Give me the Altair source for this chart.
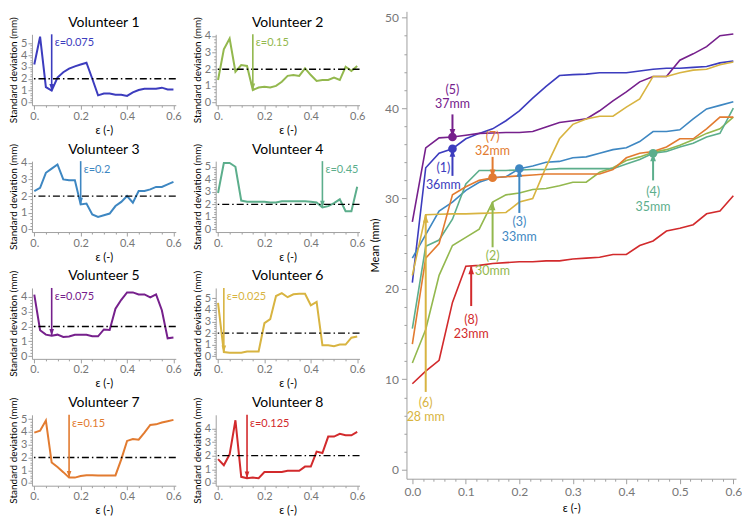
import altair as alt
import pandas as pd

FONT = "Lato"

# ---------------- data ----------------
EPS = [round(0.025 * i, 3) for i in range(25)]

SD1 = [3.2, 5.55, 1.3, 1.0, 2.1, 2.55, 2.85, 3.05, 3.2, 3.35, 2.0, 0.6, 0.75,
       0.75, 0.65, 0.65, 0.55, 0.85, 1.05, 1.15, 1.15, 1.15, 1.25, 1.1, 1.1]
SD2 = [1.35, 3.2, 3.85, 1.85, 2.25, 2.2, 0.75, 0.9, 0.95, 0.9, 1.0, 1.25, 1.6,
       1.65, 1.6, 2.05, 1.65, 1.3, 1.35, 1.35, 1.5, 1.35, 2.15, 1.9, 2.2]
SD3 = [2.3, 2.5, 3.4, 3.65, 3.9, 3.0, 2.95, 2.95, 1.5, 1.55, 0.9, 0.75, 0.85,
       0.95, 1.4, 1.65, 2.0, 1.6, 2.3, 2.3, 2.4, 2.55, 2.55, 2.7, 2.85]
SD4 = [2.9, 5.3, 5.3, 5.0, 2.3, 2.2, 2.2, 2.2, 2.2, 2.15, 2.15, 2.25, 2.25,
       2.25, 2.25, 2.25, 2.2, 2.15, 1.75, 1.85, 2.1, 2.4, 1.45, 1.45, 3.4]
SD5 = [4.15, 1.75, 1.45, 1.38, 1.45, 1.3, 1.32, 1.44, 1.44, 1.44, 1.34, 1.34, 1.8,
       1.77, 3.2, 3.8, 4.3, 4.3, 4.16, 4.16, 3.96, 4.16, 3.1, 1.2, 1.26]
SD6 = [4.6, 0.35, 0.3, 0.3, 0.3, 0.4, 0.4, 0.4, 2.85, 3.2, 5.2, 5.45, 5.1,
       5.35, 5.4, 5.4, 4.4, 4.7, 0.95, 0.95, 0.85, 1.0, 1.0, 1.6, 1.7]
SD7 = [3.95, 4.1, 4.9, 1.6, 1.25, 0.85, 0.42, 0.42, 0.54, 0.6, 0.6, 0.59, 0.59,
       0.59, 0.59, 1.85, 3.3, 3.45, 3.4, 3.95, 4.55, 4.6, 4.75, 4.85, 4.95]
SD8 = [1.75, 1.3, 2.1, 4.6, 0.45, 0.35, 0.4, 0.35, 0.8, 0.8, 0.8, 0.8, 0.9,
       0.9, 0.9, 1.2, 1.2, 2.3, 2.2, 3.4, 3.4, 3.6, 3.5, 3.5, 3.75]
SDS = [SD1, SD2, SD3, SD4, SD5, SD6, SD7, SD8]

M1 = [20.7, 33.4, 35.0, 35.5, 36.6, 37.2, 37.7, 38.6, 39.7, 41.1, 42.4, 43.6, 43.7,
      43.75, 43.9, 43.9, 43.9, 44.1, 44.3, 44.4, 44.4, 44.5, 44.6, 45.0, 45.2]
M2 = [11.8, 15.5, 21.5, 24.8, 25.7, 26.6, 29.6, 30.4, 30.6, 31.0, 31.1, 31.4, 31.8,
      31.8, 32.9, 33.4, 34.2, 34.6, 35.1, 35.4, 35.9, 36.5, 37.2, 37.7, 39.0]
M3 = [23.4, 26.0, 28.6, 29.6, 30.9, 31.8, 32.3, 32.4, 33.3, 33.6, 34.0, 34.1, 34.5,
      34.6, 35.0, 35.4, 35.6, 36.3, 37.4, 37.4, 37.6, 38.8, 39.9, 40.3, 40.7]
M4 = [15.6, 24.7, 25.4, 27.7, 31.6, 33.1, 33.1, 33.1, 33.15, 33.2, 33.2, 33.3, 33.3,
      33.3, 33.3, 33.3, 33.8, 34.3, 35.0, 35.2, 35.7, 36.1, 36.8, 37.2, 40.0]
M5 = [27.4, 35.6, 36.7, 36.8, 37.0, 37.2, 37.25, 37.3, 37.3, 37.4, 37.9, 38.4, 38.6,
      38.8, 39.7, 40.8, 41.8, 42.9, 43.5, 43.5, 45.3, 46.0, 46.8, 48.0, 48.2]
M6 = [21.5, 28.2, 28.25, 28.3, 28.3, 28.35, 28.4, 28.45, 29.6, 30.0, 33.5, 36.6, 38.2,
      38.8, 39.1, 39.1, 40.1, 41.0, 43.5, 43.5, 43.9, 44.2, 44.3, 44.8, 45.1]
M7 = [13.9, 23.4, 25.0, 30.4, 31.3, 32.0, 32.3, 32.4, 32.5, 32.6, 32.7, 32.7, 32.7,
      32.7, 32.7, 33.2, 34.5, 35.0, 35.2, 35.7, 36.6, 36.6, 37.7, 39.0, 39.0]
M8 = [9.5, 10.9, 12.1, 18.5, 22.5, 22.6, 22.8, 22.9, 23.0, 23.0, 23.1, 23.1, 23.3,
      23.4, 23.5, 23.8, 23.8, 24.8, 25.3, 26.4, 26.7, 27.1, 28.3, 28.6, 30.3]
MEANS = [M1, M2, M3, M4, M5, M6, M7, M8]

VOLS = ["1", "2", "3", "4", "5", "6", "7", "8"]
COLORS = ["#3c3cbe", "#93b84e", "#3e87c2", "#5cae8c",
          "#76208c", "#d8b441", "#e27b30", "#d22a2c"]

SEL_EPS = [0.075, 0.15, 0.2, 0.45, 0.075, 0.025, 0.15, 0.125]
SEL_LABELS = ["ε=0.075", "ε=0.15", "ε=0.2", "ε=0.45",
              "ε=0.075", "ε=0.025", "ε=0.15", "ε=0.125"]
Y_TOP = [5.75, 4.1, 4.1, 5.45, 4.6, 5.9, 5.35, 5.0]
Y_MAJOR_MAX = [5, 4, 4, 5, 4, 5, 5, 4]
THRESHOLD = 2.0

# right panel annotations
ANN_VOL = ["5", "1", "7", "3", "2", "4", "8", "6"]
ANN_EPS = [0.075, 0.075, 0.15, 0.2, 0.15, 0.45, 0.11, 0.025]
ANN_TIP = [M5[3], M1[3], M7[6], M3[8], M2[6], M4[18], 22.5, M6[1]]
ANN_TAIL = [39.3, 32.5, 34.6, 28.4, 24.6, 32.0, 18.1, 8.6]
ANN_DIR = ["down", "up", "down", "up", "up", "up", "up", "up"]
ANN_MARK = [True, True, True, True, False, True, False, False]
ANN_L1 = ["(5)", "(1)", "(7)", "(3)", "(2)", "(4)", "(8)", "(6)"]
ANN_L2 = ["37mm", "36mm", "32mm", "33mm", "30mm", "35mm", "23mm", "28 mm"]
ANN_TX = [0.075, 0.058, 0.15, 0.2, 0.15, 0.45, 0.11, 0.025]
ANN_Y1 = [42.0, 33.4, 36.75, 27.35, 23.65, 30.7, 16.6, 7.35]
ANN_Y2 = [40.45, 31.5, 35.2, 25.75, 22.0, 29.1, 15.0, 5.8]

DOWN = "M0,0L-0.6,-1.7L0.6,-1.7Z"
UP = "M0,0L-0.6,1.7L0.6,1.7Z"

W_L, H_L = 144, 71
ROW_GAP, COL_GAP = 56, 40
W_R, H_R = 330, 468
TOP_GAP = 0


def is_major(step):
    return f"abs(datum.value/{step} - round(datum.value/{step})) < 0.001"


def minor_axis(step_minor, top, major, fmt, title_size, label_size, tick_major,
               tick_minor, lab_pad, title_pad, zero_label=None):
    n = int(round(top / step_minor))
    vals = [round(step_minor * i, 4) for i in range(n + 1)]
    lab = f"format(datum.value, '{fmt}')"
    if zero_label is not None:
        lab = f"(datum.value == 0 ? '{zero_label}' : {lab})"
    return alt.Axis(values=vals, tickCount=500, labelOverlap=False,
                    labelExpr=f"{is_major(major)} ? {lab} : ''",
                    tickSize={"condition": {"test": is_major(major), "value": tick_major},
                              "value": tick_minor},
                    labelFontSize=label_size, titleFontSize=title_size,
                    labelPadding=lab_pad, titlePadding=title_pad)


# ---------------- left panels ----------------
def sd_panel(k):
    c = COLORS[k]
    ytop = Y_TOP[k]
    ybot = -0.04 * ytop
    xs = alt.Scale(domain=[-0.01, 0.61], nice=False, zero=False)
    ys = alt.Scale(domain=[ybot, ytop], nice=False, zero=False)
    xt, yt = "ε (-)", "Standard deviation (mm)"
    xax = minor_axis(0.05, 0.6, 0.2, ".1f", 11, 11, 4, 2, 1, 3, zero_label="0.")
    yax = minor_axis(0.2, Y_MAJOR_MAX[k], 1, "d", 10, 11, 4, 2, 1, 2)
    df = pd.DataFrame({"eps": EPS, "sd": SDS[k]})
    line = alt.Chart(df).mark_line(color=c, strokeWidth=2).encode(
        x=alt.X("eps:Q", scale=xs, axis=xax, title=xt),
        y=alt.Y("sd:Q", scale=ys, axis=yax, title=yt))
    thr = alt.Chart(pd.DataFrame({"sd": [THRESHOLD]})).mark_rule(
        color="black", strokeWidth=1.3, strokeDash=[7, 3, 1.5, 3]).encode(
        y=alt.Y("sd:Q", scale=ys, title=yt))
    tip = SDS[k][EPS.index(SEL_EPS[k])]
    adf = pd.DataFrame({"eps": [SEL_EPS[k]], "sd": [ytop], "tip": [tip],
                        "lab": [SEL_LABELS[k]]})
    shaft = alt.Chart(adf).mark_rule(color=c, strokeWidth=1.6).encode(
        x=alt.X("eps:Q", scale=xs, title=xt),
        y=alt.Y("sd:Q", scale=ys, title=yt), y2="tip:Q")
    head = alt.Chart(adf).mark_point(shape=DOWN, filled=True, size=60,
                                     color=c, opacity=1).encode(
        x=alt.X("eps:Q", scale=xs, title=xt),
        y=alt.Y("tip:Q", scale=ys, title=yt))
    txt = alt.Chart(adf).mark_text(align="left", baseline="middle", dx=3, dy=9,
                                   fontSize=11, color=c, font=FONT).encode(
        x=alt.X("eps:Q", scale=xs, title=xt),
        y=alt.Y("sd:Q", scale=ys, title=yt), text="lab:N")
    return alt.layer(line, thr, shaft, head, txt).properties(
        width=W_L, height=H_L,
        title=alt.TitleParams(f"Volunteer {k + 1}", fontSize=14, font=FONT,
                              fontWeight="normal", color="black", offset=-13,
                              frame="group"))


grid = alt.concat(*[sd_panel(k) for k in range(8)], columns=2,
                  spacing={"row": ROW_GAP, "column": COL_GAP}, bounds="flush")

spacer = alt.Chart(pd.DataFrame({"v": [0]})).mark_point(opacity=0).encode(
    x=alt.X("v:Q", axis=None), y=alt.Y("v:Q", axis=None)).properties(width=1, height=1)

left = alt.vconcat(spacer, grid, spacing=TOP_GAP, bounds="full")

# ---------------- right panel ----------------
xs_r = alt.Scale(domain=[-0.011, 0.605], nice=False, zero=False)
ys_r = alt.Scale(domain=[-1.0, 50.7], nice=False, zero=False)
cs = alt.Scale(domain=VOLS, range=COLORS)
XT, YT = "ε (-)", "Mean (mm)"

xax_r = minor_axis(0.02, 0.6, 0.1, ".1f", 11, 12, 5, 2.5, 3, 5)
yax_r = minor_axis(2, 50, 10, "d", 11, 12, 5, 2.5, 3, 4)

mean_rows = []
for v, m in zip(VOLS, MEANS):
    for e, val in zip(EPS, m):
        mean_rows.append({"eps": e, "mean": val, "vol": v})
mdf = pd.DataFrame(mean_rows)

lines_r = alt.Chart(mdf).mark_line(strokeWidth=1.6).encode(
    x=alt.X("eps:Q", scale=xs_r, axis=xax_r, title=XT),
    y=alt.Y("mean:Q", scale=ys_r, axis=yax_r, title=YT),
    color=alt.Color("vol:N", scale=cs, legend=None),
    detail="vol:N")

adf_r = pd.DataFrame({"vol": ANN_VOL, "eps": ANN_EPS, "mean": ANN_TIP, "tail": ANN_TAIL,
                      "dir": ANN_DIR, "mark": ANN_MARK, "l1": ANN_L1, "l2": ANN_L2,
                      "tx": ANN_TX, "y1": ANN_Y1, "y2": ANN_Y2})

enc_xy = dict(x=alt.X("eps:Q", scale=xs_r, title=XT),
              y=alt.Y("mean:Q", scale=ys_r, title=YT),
              color=alt.Color("vol:N", scale=cs, legend=None))

shafts_r = alt.Chart(adf_r).mark_rule(strokeWidth=2).encode(y2="tail:Q", **enc_xy)
heads_up = alt.Chart(adf_r).transform_filter("datum.dir == 'up'").mark_point(
    shape=UP, filled=True, size=90, opacity=1).encode(**enc_xy)
heads_dn = alt.Chart(adf_r).transform_filter("datum.dir == 'down'").mark_point(
    shape=DOWN, filled=True, size=90, opacity=1).encode(**enc_xy)
dots = alt.Chart(adf_r).transform_filter("datum.mark").mark_circle(
    size=75, opacity=1).encode(**enc_xy)
t1 = alt.Chart(adf_r).mark_text(fontSize=12.5, font=FONT, baseline="middle").encode(
    x=alt.X("tx:Q", scale=xs_r, title=XT),
    y=alt.Y("y1:Q", scale=ys_r, title=YT),
    text="l1:N", color=alt.Color("vol:N", scale=cs, legend=None))
t2 = alt.Chart(adf_r).mark_text(fontSize=12.5, font=FONT, baseline="middle").encode(
    x=alt.X("tx:Q", scale=xs_r, title=XT),
    y=alt.Y("y2:Q", scale=ys_r, title=YT),
    text="l2:N", color=alt.Color("vol:N", scale=cs, legend=None))

right = alt.layer(lines_r, shafts_r, heads_up, heads_dn, dots, t1, t2).properties(
    width=W_R, height=H_R)

chart = alt.hconcat(left, right, spacing=4, bounds="full").properties(
    padding=0
).configure_axis(
    labelFont=FONT, titleFont=FONT, labelColor="#777777", titleColor="black",
    domainColor="#a0a0a0", tickColor="#a0a0a0", grid=False, titleFontWeight="normal"
).configure_view(stroke=None)

chart.save("out.html", embed_options={"renderer": "svg", "actions": False})
